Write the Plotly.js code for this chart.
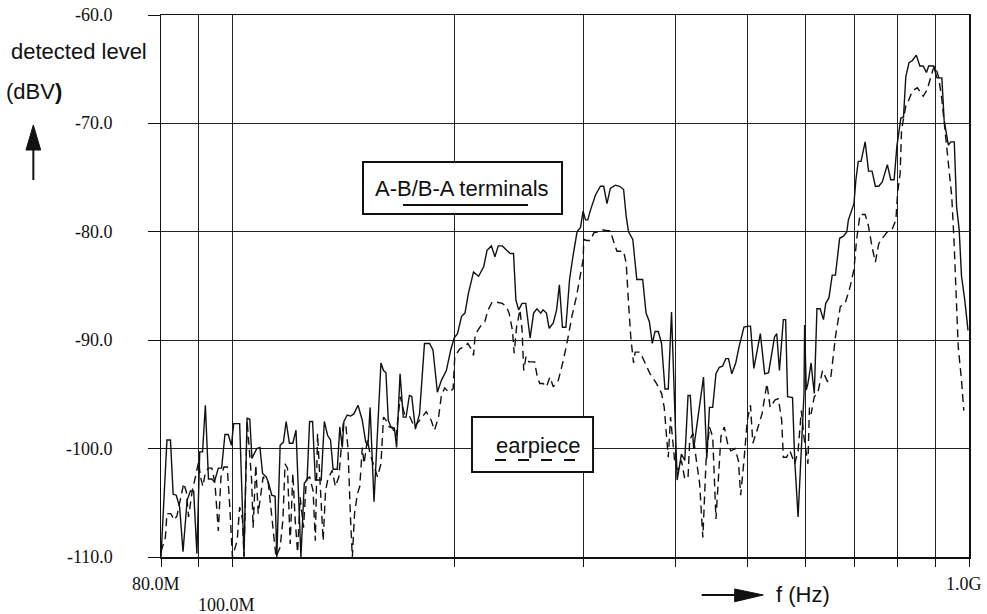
<!DOCTYPE html>
<html>
<head>
<meta charset="utf-8">
<script src="https://cdn.plot.ly/plotly-3.0.1.min.js"></script>
<style>
html,body{margin:0;padding:0;background:#fff;}
#chart{width:987px;height:614px;}
</style>
</head>
<body>
<div id="chart"></div>
<script>
// frequency in MHz, level in dBV
const solidFreq = [80.0,81.5,82.4,83.1,83.9,84.8,85.7,86.8,87.7,88.6,89.5,90.3,91.1,91.9,92.8,93.8,94.5,95.7,96.7,97.7,98.7,99.7,100.4,102.3,103.7,104.7,105.6,106.3,107.9,109.0,109.9,111.1,111.9,113.1,114.3,114.9,116.1,117.3,118.3,119.5,120.8,122.0,123.9,125.2,126.3,127.3,128.5,129.6,132.0,133.3,134.7,135.9,137.0,138.8,139.9,141.0,141.7,143.2,144.7,146.2,148.1,150.1,151.7,152.8,153.8,155.7,159.1,160.4,161.6,162.8,164.2,165.9,167.1,168.9,170.6,172.1,173.9,175.2,177.2,179.5,182.3,185.2,187.2,189.8,192.2,195.2,197.9,200.0,202.1,204.7,206.9,209.1,212.5,215.9,219.4,221.7,224.7,227.2,229.6,232.5,235.7,238.3,240.8,242.6,244.7,247.3,250.2,253.6,256.4,259.1,262.2,264.1,266.9,269.2,272.7,275.5,277.9,280.6,283.6,286.9,289.9,293.7,296.9,299.3,301.6,303.7,306.3,311.1,316.0,319.2,322.5,325.9,331.0,335.5,339.7,342.5,345.0,349.6,354.0,360.6,364.4,368.2,371.6,374.8,378.6,382.5,386.6,390.6,394.6,397.9,401.6,407.0,411.3,415.5,418.4,422.9,436.1,440.6,444.3,448.8,453.4,458.2,462.9,467.6,471.5,476.4,482.3,487.4,494.9,502.6,505.1,510.4,520.9,528.0,534.5,544.5,548.3,552.9,559.7,563.7,567.2,576.0,580.0,586.1,592.1,597.1,598.2,601.3,604.4,610.5,613.7,616.6,621.7,628.0,634.5,639.0,645.4,652.1,658.7,667.4,675.5,682.6,685.9,693.0,697.9,702.2,707.4,713.6,722.8,730.5,738.5,746.3,754.2,762.5,774.8,783.0,791.3,798.2,808.2,814.9,820.7,829.0,837.8,848.1,857.6,866.6,875.4,881.6,895.3,904.7,918.7,925.2,937.5,944.5,955.0,962.0,969.7,976.9,986.9,996.9];
const solidLevel = [-110,-99.2,-99.2,-104.2,-104.3,-105.4,-109.5,-104.8,-103.9,-103.9,-109.7,-100.3,-100.3,-96.0,-102.8,-102.8,-103.1,-101.8,-101.8,-98.7,-98.7,-99.7,-97.7,-97.7,-109.9,-97.2,-97.3,-100.9,-100.0,-99.9,-102.3,-102.6,-103.1,-104.3,-104.4,-110,-99.7,-99.4,-97.5,-99.5,-99.5,-98.3,-110,-103.2,-102.9,-97.5,-97.5,-102.9,-102.9,-97.5,-98.8,-99.2,-101.9,-101.9,-98.0,-99.9,-97.5,-96.9,-97.0,-96.8,-96.0,-97.4,-99.4,-99.7,-96.2,-104.9,-92.1,-92.8,-93.0,-97.4,-98.0,-98.1,-99.9,-93.1,-97.1,-97.1,-95.1,-95.2,-98.2,-96.8,-90.3,-90.3,-90.9,-94.8,-93.7,-92.8,-90.9,-89.8,-89.4,-87.8,-87.5,-85.7,-83.7,-84.1,-83.2,-81.7,-81.3,-82.3,-81.3,-81.3,-81.7,-82.0,-82.0,-86.3,-87.2,-86.6,-86.6,-89.8,-87.5,-87.1,-87.5,-87.2,-87.5,-88.9,-88.4,-87.2,-84.9,-88.8,-88.8,-84.4,-82.3,-80.0,-79.6,-78.1,-78.9,-78.9,-78.0,-76.6,-75.8,-75.8,-77.4,-76.0,-75.7,-75.8,-76.1,-78.6,-80.0,-80.7,-84.4,-84.4,-87.5,-88.3,-90.3,-89.2,-89.2,-90.3,-94.5,-94.5,-87.4,-94.9,-102.9,-100.5,-101.1,-95.1,-95.1,-100.0,-93.4,-100.9,-96.2,-96.2,-93.1,-92.5,-92.4,-91.7,-91.7,-93.1,-92.1,-90.6,-88.8,-88.7,-88.7,-92.6,-89.4,-93.1,-93.0,-89.7,-89.4,-92.8,-88.1,-88.1,-95.2,-95.3,-101.1,-106.3,-99.5,-94.9,-88.6,-94.6,-94.0,-92.1,-93.7,-94.9,-87.1,-87.1,-88.1,-86.6,-86.1,-84.0,-84.0,-80.6,-80.4,-80.0,-78.9,-78.1,-77.4,-75.2,-73.5,-73.5,-71.7,-74.4,-74.4,-75.8,-75.8,-75.4,-73.8,-75.2,-75.2,-72.1,-69.5,-69.4,-65.7,-64.4,-64.2,-63.7,-64.7,-64.7,-65.3,-64.7,-64.7,-65.8,-65.8,-69.7,-72.0,-71.7,-71.7,-77.7,-79.8,-84.1,-86.3,-89.1];

const dashFreq = [80.0,81.1,81.5,82.5,83.4,84.1,85.9,86.6,87.2,88.2,89.1,90.0,90.5,91.2,91.9,92.8,93.8,94.7,95.7,96.5,97.4,98.4,99.2,100.0,101.5,102.3,103.2,103.7,104.7,106.2,106.7,107.6,108.4,110.1,111.9,113.1,114.6,116.1,117.1,117.9,118.8,119.8,120.8,121.7,122.6,123.6,124.9,126.0,127.3,128.7,129.6,130.5,131.7,132.8,133.8,134.7,136.6,138.0,139.5,140.5,141.4,142.5,143.5,144.7,145.5,146.5,147.8,148.9,150.1,150.9,152.5,153.8,155.4,157.4,159.1,160.4,162.1,163.3,165.0,166.8,169.0,171.2,173.9,176.7,179.5,183.3,186.2,188.1,190.5,192.2,194.2,196.6,199.4,200.4,203.6,206.5,208.7,210.9,212.5,213.6,215.4,217.7,220.1,222.4,225.2,228.8,232.5,235.5,237.5,240.0,241.3,243.1,245.7,247.3,248.6,250.4,252.6,257.2,259.4,261.4,264.1,266.9,269.8,272.7,277.0,281.5,285.1,289.0,293.1,296.2,299.3,300.0,302.5,306.3,309.5,313.3,317.5,322.5,325.9,329.3,332.7,339.7,342.5,345.0,347.4,350.4,352.2,357.7,363.3,369.0,376.6,382.5,385.7,388.5,390.6,393.4,395.8,398.8,402.8,407.0,411.3,415.5,417.7,421.9,426.3,430.8,435.2,439.6,444.3,448.8,453.4,457.2,460.5,465.3,470.1,474.9,481.4,486.3,489.8,494.9,500.0,505.1,508.8,515.6,523.6,531.7,537.1,545.5,551.2,556.8,559.7,565.4,571.2,580.0,586.1,592.1,597.1,604.4,607.3,610.5,616.6,623.1,626.1,632.6,642.3,648.8,658.7,668.8,679.0,689.4,697.9,703.8,711.3,722.8,730.5,738.5,746.3,754.2,762.5,774.8,787.3,795.7,800.0,806.4,809.9,814.9,820.7,829.0,837.8,850.8,859.4,866.6,877.3,886.3,893.7,900.0,909.2,918.7,928.1,937.5,947.4,954.1,960.0,966.8,976.9,983.9];
const dashLevel = [-109.5,-108.2,-106.0,-106.0,-106.6,-106.2,-103.2,-104.0,-106.3,-103.9,-102.6,-101.2,-102.6,-103.5,-102.2,-101.8,-101.8,-103.2,-107.6,-102.6,-101.7,-101.7,-105.4,-110,-108.5,-105.4,-106.5,-110,-97.4,-102.9,-107.3,-101.5,-106.0,-102.6,-103.2,-106.0,-110,-109.1,-106.6,-101.4,-101.8,-108.8,-102.3,-106.6,-109.6,-104.5,-107.3,-102.9,-102.6,-103.9,-108.5,-98.6,-104.5,-108.5,-103.9,-102.9,-102.0,-103.5,-102.6,-99.9,-97.7,-97.7,-99.9,-106.6,-110,-106.0,-104.2,-103.5,-99.9,-101.4,-99.2,-100.5,-101.4,-102.6,-101.4,-97.1,-97.5,-98.0,-98.1,-98.9,-95.2,-96.8,-97.0,-98.0,-97.4,-96.6,-97.4,-98.3,-97.1,-95.1,-94.4,-94.8,-94.5,-91.5,-90.8,-90.6,-90.3,-90.8,-91.4,-89.5,-89.1,-88.6,-88.3,-87.2,-86.5,-86.5,-86.6,-86.9,-87.5,-89.1,-91.2,-88.8,-87.2,-89.0,-92.8,-91.5,-92.0,-92.0,-93.4,-94.0,-94.0,-94.3,-93.4,-94.3,-93.7,-91.8,-90.0,-87.8,-86.0,-84.4,-82.6,-80.7,-80.8,-80.8,-80.1,-80.0,-79.8,-79.9,-79.9,-80.9,-81.8,-81.8,-82.9,-86.6,-89.7,-92.1,-91.1,-91.1,-92.1,-93.1,-94.0,-94.9,-96.2,-98.9,-100.8,-97.1,-99.0,-101.4,-102.0,-101.1,-102.8,-102.7,-99.2,-98.6,-101.0,-103.2,-108.2,-101.1,-98.0,-98.9,-106.5,-101.7,-98.9,-98.0,-99.5,-100.2,-100.0,-101.1,-104.3,-101.1,-97.4,-96.0,-99.5,-98.3,-96.8,-94.0,-96.2,-95.5,-95.4,-97.4,-100.8,-100.8,-100.2,-101.4,-100.2,-96.5,-99.0,-101.4,-96.2,-96.8,-95.2,-94.9,-94.3,-92.8,-93.8,-93.6,-89.7,-86.9,-86.6,-85.1,-83.5,-80.7,-78.4,-78.4,-79.5,-81.4,-82.8,-81.1,-80.6,-80.0,-79.7,-78.9,-76.4,-74.6,-70.6,-69.5,-68.4,-67.8,-67.0,-66.7,-67.2,-67.5,-66.9,-65.7,-65.0,-64.7,-65.7,-67.8,-70.9,-74.0,-76.7,-80.7,-86.3,-90.6,-93.7,-96.5];

const xGridVals = [80,90,100,200,300,400,500,600,700,800,900,1000];
const xLabelVals = [80, 100, 1000];
const xLabelText = ['80.0M', '100.0M', '1.0G'];
const yTickVals = [-60,-70,-80,-90,-100,-110];
const yTickText = ['-60.0','-70.0','-80.0','-90.0','-100.0','-110.0'];
const seriesNames = ['A-B/B-A terminals', 'earpiece'];

const serif = 'Liberation Serif, Times New Roman, serif';
const sans = 'Liberation Sans, Arial, Helvetica, sans-serif';

const traces = [
  {x: solidFreq, y: solidLevel, mode:'lines', name: seriesNames[0],
   line:{color:'#111', width:1.4}, hoverinfo:'skip'},
  {x: dashFreq, y: dashLevel, mode:'lines', name: seriesNames[1],
   line:{color:'#111', width:1.4, dash:'8px,5px'}, hoverinfo:'skip'}
];

const annotations = [];
yTickVals.forEach((v,i)=>{
  annotations.push({xref:'paper', x:0, xshift:-46, xanchor:'right', yref:'y', y:v, yanchor:'middle',
    text:yTickText[i], showarrow:false, font:{family:serif, size:18, color:'#111'}});
});
const xShifts = [[-5,-27],[-6,-48],[-5,-27]];
xLabelVals.forEach((v,i)=>{
  annotations.push({xref:'x', x:Math.log10(v), xshift:xShifts[i][0], xanchor:'center',
    yref:'paper', y:0, yshift:xShifts[i][1], yanchor:'middle',
    text:xLabelText[i], showarrow:false, font:{family:serif, size:18, color:'#111'}});
});
annotations.push({xref:'paper', yref:'paper', x:-0.1882, y:0.9323, xanchor:'left', yanchor:'middle',
  text:'detected level', showarrow:false, font:{family:sans, size:22, color:'#111'}});
annotations.push({xref:'paper', yref:'paper', x:-0.1944, y:0.8585, xanchor:'left', yanchor:'middle',
  text:'(dBV<b>)</b>', showarrow:false, font:{family:sans, size:22, color:'#111'}});
annotations.push({xref:'paper', yref:'paper', x:0.7585, y:-0.0683, xanchor:'left', yanchor:'middle',
  text:'f (Hz)', showarrow:false, font:{family:sans, size:22, color:'#111'}});
annotations.push({xref:'paper', yref:'paper', x:0.3731, y:0.679, xanchor:'center', yanchor:'middle',
  text:seriesNames[0], showarrow:false, font:{family:sans, size:22, color:'#111'}});
annotations.push({xref:'paper', yref:'paper', x:0.466, y:0.2048, xanchor:'center', yanchor:'middle',
  text:seriesNames[1], showarrow:false, font:{family:sans, size:22, color:'#111'}});

const shapes = [
  // legend boxes
  {type:'rect', xref:'paper', yref:'paper', x0:0.25, x1:0.4963, y0:0.6328, y1:0.7288,
   line:{color:'#111', width:2}, fillcolor:'#fff', layer:'above'},
  {type:'line', xref:'paper', yref:'paper', x0:0.2995, x1:0.4542, y0:0.6494, y1:0.6494,
   line:{color:'#111', width:2}, layer:'above'},
  {type:'rect', xref:'paper', yref:'paper', x0:0.3849, x1:0.5347, y0:0.1568, y1:0.2583,
   line:{color:'#111', width:2}, fillcolor:'#fff', layer:'above'},
  {type:'line', xref:'paper', yref:'paper', x0:0.4134, x1:0.5186, y0:0.179, y1:0.179,
   line:{color:'#111', width:2, dash:'11px,12px'}, layer:'above'},
  // up arrow
  {type:'line', xref:'paper', yref:'paper', x0:-0.158, x1:-0.158, y0:0.6956, y1:0.7560,
   line:{color:'#111', width:2}},
  {type:'path', xref:'paper', yref:'paper', path:'M -0.1671 0.7509 L -0.1489 0.7509 L -0.158 0.797 Z',
   fillcolor:'#111', line:{color:'#111', width:1}},
  // right arrow
  {type:'line', xref:'paper', yref:'paper', x0:0.6692, x1:0.7150, y0:-0.0701, y1:-0.0701,
   line:{color:'#111', width:2}},
  {type:'path', xref:'paper', yref:'paper', path:'M 0.7100 -0.059 L 0.7100 -0.0825 L 0.7454 -0.0701 Z',
   fillcolor:'#111', line:{color:'#111', width:1}}
];

const layout = {
  width:987, height:614,
  margin:{l:161, r:18, t:15, b:57},
  paper_bgcolor:'#fff', plot_bgcolor:'#fff',
  showlegend:false,
  xaxis:{type:'log', range:[Math.log10(80), 3], tickvals:xGridVals, ticktext:xGridVals.map(()=>''),
    ticks:'outside', ticklen:8, tickwidth:1, tickcolor:'#111',
    showgrid:true, gridcolor:'#222', gridwidth:1,
    showline:true, linecolor:'#111', linewidth:1.5, mirror:true, zeroline:false, fixedrange:true},
  yaxis:{range:[-110,-60], tickvals:yTickVals, ticktext:yTickVals.map(()=>''),
    ticks:'outside', ticklen:12, tickwidth:1, tickcolor:'#111',
    showgrid:true, gridcolor:'#222', gridwidth:1,
    showline:true, linecolor:'#111', linewidth:1.5, mirror:true, zeroline:false, fixedrange:true},
  annotations: annotations,
  shapes: shapes
};

Plotly.newPlot('chart', traces, layout, {staticPlot:true, displayModeBar:false});
</script>
</body>
</html>
